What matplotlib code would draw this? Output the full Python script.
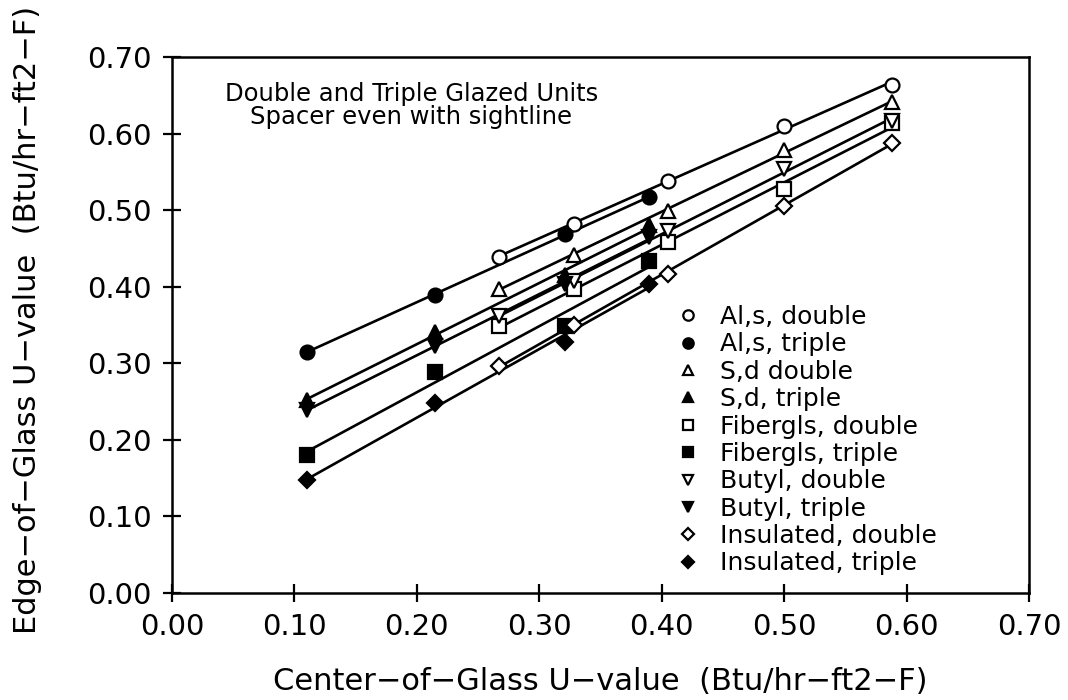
import matplotlib
matplotlib.use('Agg')
import matplotlib.pyplot as plt
import numpy as np

# center-of-glass U-values (x) for double and triple glazed units
xDouble = [0.267, 0.328, 0.405, 0.50, 0.588]
xTriple = [0.110, 0.215, 0.321, 0.390]

# edge-of-glass U-values
alsDouble = [0.439, 0.482, 0.538, 0.610, 0.664]
alsTriple = [0.315, 0.389, 0.469, 0.517]
sdDouble = [0.397, 0.442, 0.499, 0.578, 0.641]
sdTriple = [0.252, 0.341, 0.415, 0.480]
fibDouble = [0.348, 0.397, 0.458, 0.528, 0.614]
fibTriple = [0.180, 0.289, 0.349, 0.434]
butylDouble = [0.362, 0.408, 0.473, 0.554, 0.617]
butylTriple = [0.239, 0.323, 0.403, 0.465]
insDouble = [0.297, 0.350, 0.417, 0.506, 0.588]
insTriple = [0.147, 0.248, 0.328, 0.404]

seriesList = [
    ('Al,s, double', xDouble, alsDouble, 'o', 'white'),
    ('Al,s, triple', xTriple, alsTriple, 'o', 'black'),
    ('S,d double', xDouble, sdDouble, '^', 'white'),
    ('S,d, triple', xTriple, sdTriple, '^', 'black'),
    ('Fibergls, double', xDouble, fibDouble, 's', 'white'),
    ('Fibergls, triple', xTriple, fibTriple, 's', 'black'),
    ('Butyl, double', xDouble, butylDouble, 'v', 'white'),
    ('Butyl, triple', xTriple, butylTriple, 'v', 'black'),
    ('Insulated, double', xDouble, insDouble, 'D', 'white'),
    ('Insulated, triple', xTriple, insTriple, 'D', 'black'),
]

tickVals = [0.0, 0.1, 0.2, 0.3, 0.4, 0.5, 0.6, 0.7]

fig = plt.figure(figsize=(10.68, 7.0), dpi=100)
ax = fig.add_axes([0.161, 0.153, 0.8025, 0.7656])

# straight fitted line per series, drawn under the markers
for label, xs, ys, mk, face in seriesList:
    coef = np.polyfit(xs, ys, 1)
    xFit = np.array([min(xs), max(xs)])
    ax.plot(xFit, np.polyval(coef, xFit), color='black', linewidth=1.9, zorder=2)

for label, xs, ys, mk, face in seriesList:
    msz = 8 if mk == 'D' else 10
    ax.plot(xs, ys, linestyle='none', marker=mk, markersize=msz,
            markerfacecolor=face, markeredgecolor='black', markeredgewidth=1.6,
            label=label, zorder=3)

ax.set_xlim(0, 0.7)
ax.set_ylim(0, 0.7)
ax.set_xticks(tickVals)
ax.set_yticks(tickVals)
ax.set_xticklabels(['{0:.2f}'.format(v) for v in tickVals])
ax.set_yticklabels(['{0:.2f}'.format(v) for v in tickVals])
ax.tick_params(direction='inout', length=13, width=1.6, labelsize=21)
ax.tick_params(axis='x', pad=8)
ax.tick_params(axis='y', pad=8)

for sp in ax.spines.values():
    sp.set_linewidth(1.8)

ax.set_xlabel('Center\u2212of\u2212Glass U\u2212value  (Btu/hr\u2212ft2\u2212F)', fontsize=22)
ax.set_ylabel('Edge\u2212of\u2212Glass U\u2212value  (Btu/hr\u2212ft2\u2212F)', fontsize=22)
ax.xaxis.set_label_coords(0.5, -0.139)
ax.yaxis.set_label_coords(-0.152, 0.51)

ax.text(0.2795, 0.910, 'Double and Triple Glazed Units\nSpacer even with sightline',
        transform=ax.transAxes, ha='center', va='center', fontsize=17.5, linespacing=0.95)

ax.legend(loc='upper left', bbox_to_anchor=(0.602, 0.537), frameon=False, fontsize=18,
          handlelength=0, handletextpad=1.3, labelspacing=0.135, markerscale=0.75,
          borderaxespad=0., borderpad=0.)

fig.savefig('out.png', dpi=100)
